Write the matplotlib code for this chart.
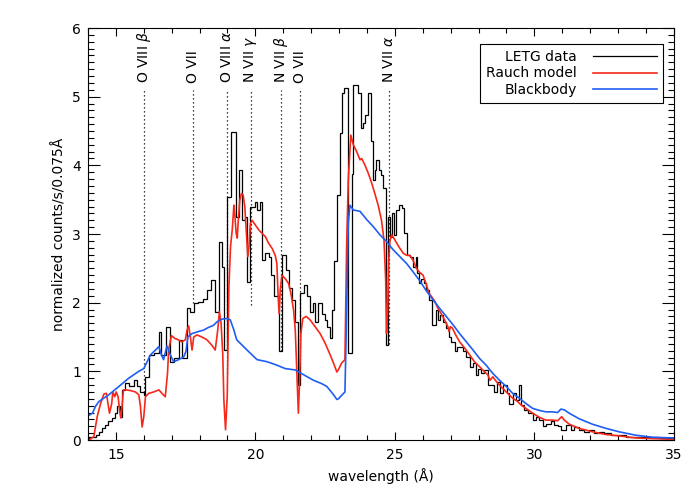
import matplotlib
matplotlib.use("Agg")
from matplotlib import pyplot as plt
from matplotlib.ticker import MultipleLocator

# LETG data: bin left edges (Angstrom) and counts, last edge closes the histogram
letg_edges = [14.04, 14.27, 14.39, 14.51, 14.61, 14.73, 14.85, 14.97, 15.05, 15.13,
              15.23, 15.32, 15.46, 15.64, 15.76, 15.88, 15.99, 16.06, 16.18, 16.36,
              16.54, 16.63, 16.80, 16.95, 17.07, 17.25, 17.37, 17.55, 17.67, 17.79,
              17.96, 18.14, 18.26, 18.42, 18.54, 18.69, 18.81, 18.89, 18.99, 19.13,
              19.29, 19.41, 19.52, 19.61, 19.70, 19.82, 20.00, 20.06, 20.18, 20.24,
              20.36, 20.48, 20.56, 20.66, 20.85, 20.95, 21.11, 21.19, 21.31, 21.43,
              21.51, 21.61, 21.73, 21.85, 21.94, 22.06, 22.14, 22.26, 22.38, 22.50,
              22.58, 22.68, 22.74, 22.80, 22.92, 23.03, 23.09, 23.18, 23.31, 23.45,
              23.51, 23.69, 23.77, 23.84, 23.93, 24.05, 24.13, 24.20, 24.28, 24.34,
              24.44, 24.52, 24.58, 24.68, 24.76, 24.82, 24.88, 24.96, 25.03, 25.15,
              25.24, 25.32, 25.42, 25.53, 25.65, 25.74, 25.81, 25.87, 25.95, 26.03,
              26.13, 26.22, 26.34, 26.46, 26.54, 26.63, 26.72, 26.82, 26.94, 27.02,
              27.14, 27.22, 27.44, 27.56, 27.68, 27.79, 27.89, 27.97, 28.09, 28.21,
              28.33, 28.57, 28.65, 28.75, 28.87, 29.01, 29.10, 29.22, 29.34, 29.46,
              29.52, 29.64, 29.76, 29.94, 30.06, 30.18, 30.30, 30.41, 30.59, 30.71,
              30.83, 30.95, 31.13, 31.31, 31.43, 31.60, 31.78, 31.96, 32.14, 32.32,
              32.50, 32.73, 33.03, 33.27, 33.63, 33.99, 34.46, 35.00]
letg_counts = [0.05, 0.07, 0.12, 0.17, 0.22, 0.27, 0.32, 0.39, 0.49, 0.34,
               0.73, 0.83, 0.78, 0.87, 0.78, 0.70, 0.66, 0.92, 1.24, 1.26,
               1.58, 1.24, 1.65, 1.14, 1.19, 1.46, 1.19, 1.92, 1.87, 1.99,
               2.01, 2.06, 2.18, 2.33, 1.86, 2.89, 2.52, 1.31, 3.54, 4.49,
               3.25, 3.93, 3.20, 3.25, 2.30, 3.40, 3.47, 3.35, 3.47, 2.62,
               2.72, 2.67, 2.40, 2.09, 1.29, 2.69, 2.48, 2.21, 2.04, 1.72,
               0.80, 2.14, 2.26, 2.09, 1.87, 2.00, 1.72, 1.99, 1.84, 1.75,
               1.65, 1.48, 1.89, 2.60, 3.57, 4.47, 5.05, 5.12, 1.27, 3.88,
               5.17, 5.05, 4.54, 4.61, 4.73, 5.05, 4.35, 3.79, 3.93, 4.08,
               3.93, 3.86, 3.67, 1.38, 3.25, 2.96, 3.30, 2.99, 3.35, 3.42,
               3.38, 3.01, 2.69, 2.67, 2.52, 2.67, 2.43, 2.28, 2.35, 2.28,
               2.18, 2.04, 1.67, 1.89, 1.75, 1.82, 1.72, 1.63, 1.50, 1.43,
               1.29, 1.36, 1.29, 1.21, 1.07, 1.12, 0.95, 1.04, 0.97, 1.02,
               0.80, 0.70, 0.85, 0.68, 0.80, 0.68, 0.53, 0.68, 0.58, 0.80,
               0.51, 0.44, 0.39, 0.29, 0.34, 0.29, 0.20, 0.24, 0.27, 0.22,
               0.20, 0.15, 0.22, 0.15, 0.19, 0.15, 0.12, 0.15, 0.10, 0.12,
               0.10, 0.07, 0.07, 0.05, 0.04, 0.05, 0.03]

# Rauch model
rauch_wave = [14.00, 14.04, 14.21, 14.33, 14.45, 14.57, 14.66, 14.73, 14.77, 14.85,
              14.89, 14.96, 15.01, 15.08, 15.13, 15.18, 15.23, 15.27, 15.35, 15.52,
              15.70, 15.82, 15.88, 15.94, 16.00, 16.06, 16.18, 16.36, 16.54, 16.65,
              16.77, 16.85, 16.89, 16.99, 17.11, 17.23, 17.37, 17.49, 17.55, 17.61,
              17.67, 17.73, 17.79, 17.91, 18.08, 18.26, 18.44, 18.56, 18.65, 18.71,
              18.77, 18.83, 18.87, 18.93, 18.99, 19.05, 19.11, 19.17, 19.23, 19.26,
              19.31, 19.35, 19.38, 19.44, 19.50, 19.56, 19.62, 19.68, 19.73, 19.77,
              19.82, 19.88, 20.00, 20.12, 20.24, 20.36, 20.48, 20.60, 20.71, 20.77,
              20.81, 20.85, 20.89, 20.95, 21.07, 21.19, 21.27, 21.37, 21.43, 21.49,
              21.54, 21.58, 21.63, 21.70, 21.82, 21.96, 22.14, 22.32, 22.50, 22.68,
              22.80, 22.92, 22.97, 23.09, 23.21, 23.27, 23.33, 23.42, 23.51, 23.63,
              23.75, 23.81, 23.93, 24.05, 24.17, 24.28, 24.40, 24.52, 24.61, 24.67,
              24.70, 24.74, 24.78, 24.82, 24.88, 24.96, 25.06, 25.18, 25.30, 25.42,
              25.53, 25.65, 25.77, 25.89, 26.01, 26.13, 26.22, 26.31, 26.43, 26.54,
              26.66, 26.78, 26.90, 26.94, 26.99, 27.06, 27.18, 27.32, 27.50, 27.68,
              27.85, 28.03, 28.21, 28.33, 28.41, 28.51, 28.60, 28.75, 28.99, 29.22,
              29.40, 29.52, 29.70, 29.94, 30.18, 30.41, 30.65, 30.83, 30.98, 31.07,
              31.25, 31.60, 32.08, 32.56, 33.03, 33.63, 34.22, 35.00]
rauch_flux = [0.00, 0.00, 0.05, 0.34, 0.53, 0.67, 0.68, 0.49, 0.39, 0.53,
              0.70, 0.63, 0.70, 0.63, 0.44, 0.32, 0.53, 0.73, 0.73, 0.72,
              0.70, 0.66, 0.49, 0.19, 0.34, 0.63, 0.68, 0.70, 0.73, 0.68,
              0.63, 0.97, 1.31, 1.52, 1.48, 1.46, 1.43, 1.46, 1.60, 1.66,
              1.50, 1.31, 1.50, 1.53, 1.50, 1.46, 1.38, 1.31, 1.60, 1.87,
              1.70, 1.26, 0.58, 0.15, 0.63, 2.23, 2.82, 3.06, 3.42, 3.30,
              3.01, 2.94, 3.15, 3.49, 3.59, 3.57, 3.40, 3.01, 2.67, 2.82,
              3.15, 3.20, 3.13, 3.06, 3.01, 2.96, 2.86, 2.79, 2.69, 2.57,
              2.14, 1.84, 2.18, 2.40, 2.35, 2.28, 2.14, 1.89, 1.60, 0.92,
              0.39, 0.82, 1.55, 1.77, 1.80, 1.75, 1.65, 1.55, 1.41, 1.24,
              1.12, 0.99, 1.02, 1.12, 1.17, 2.82, 3.79, 4.44, 4.30, 4.20,
              4.08, 4.10, 4.00, 3.88, 3.74, 3.59, 3.42, 3.20, 2.91, 2.33,
              1.55, 1.85, 2.62, 2.89, 2.99, 2.94, 2.87, 2.79, 2.72, 2.69,
              2.69, 2.62, 2.50, 2.44, 2.40, 2.26, 2.14, 2.09, 2.02, 1.92,
              1.84, 1.75, 1.65, 1.58, 1.65, 1.63, 1.53, 1.43, 1.34, 1.24,
              1.14, 1.07, 0.995, 0.95, 0.87, 0.92, 0.87, 0.80, 0.70, 0.61,
              0.56, 0.51, 0.46, 0.39, 0.33, 0.29, 0.29, 0.28, 0.34, 0.29,
              0.23, 0.17, 0.12, 0.08, 0.06, 0.03, 0.02, 0.01]

# Blackbody
bb_wave = [14.00, 14.04, 14.16, 14.27, 14.39, 14.75, 15.11, 15.46, 15.82, 16.00,
           16.12, 16.24, 16.42, 16.54, 16.63, 16.71, 16.83, 16.95, 17.07, 17.25,
           17.43, 17.51, 17.58, 17.73, 17.96, 18.14, 18.32, 18.50, 18.62, 18.80,
           18.98, 19.10, 19.23, 19.33, 19.70, 20.06, 20.42, 20.77, 21.07, 21.43,
           21.73, 22.08, 22.38, 22.56, 22.80, 22.92, 22.98, 23.09, 23.21, 23.27,
           23.33, 23.39, 23.51, 23.75, 23.99, 24.22, 24.46, 24.70, 24.94, 25.18,
           25.42, 25.65, 25.89, 26.13, 26.37, 26.60, 26.84, 27.08, 27.32, 27.56,
           27.80, 28.03, 28.27, 28.51, 28.75, 28.99, 29.22, 29.46, 29.70, 29.94,
           30.18, 30.41, 30.65, 30.83, 30.95, 31.07, 31.25, 31.60, 32.08, 32.56,
           33.03, 33.63, 34.22, 35.00]
bb_flux = [0.36, 0.36, 0.39, 0.49, 0.56, 0.66, 0.78, 0.90, 1.00, 1.04,
           1.14, 1.24, 1.31, 1.36, 1.24, 1.17, 1.37, 1.24, 1.14, 1.17,
           1.21, 1.29, 1.50, 1.55, 1.58, 1.60, 1.64, 1.67, 1.72, 1.76,
           1.77, 1.75, 1.60, 1.46, 1.31, 1.17, 1.14, 1.09, 1.04, 1.02,
           0.95, 0.87, 0.82, 0.78, 0.66, 0.59, 0.60, 0.65, 0.70, 1.85,
           3.16, 3.42, 3.35, 3.33, 3.21, 3.11, 2.99, 2.89, 2.77, 2.67,
           2.57, 2.45, 2.32, 2.17, 2.04, 1.92, 1.80, 1.68, 1.55, 1.43,
           1.31, 1.19, 1.09, 0.97, 0.87, 0.78, 0.68, 0.61, 0.53, 0.46,
           0.43, 0.41, 0.41, 0.40, 0.45, 0.44, 0.39, 0.31, 0.23, 0.17,
           0.12, 0.07, 0.04, 0.03]

# line identifications
line_names = [r"O VIII $\beta$", "O VII", r"O VIII $\alpha$", r"N VII $\gamma$",
              r"N VII $\beta$", "O VII", r"N VII $\alpha$"]
line_wave = [16.006, 17.768, 18.969, 19.826, 20.910, 21.602, 24.781]
line_bottom = [0.70, 2.00, 0.97, 1.97, 1.30, 0.82, 1.40]

plt.rcParams['mathtext.fontset'] = 'dejavusans'
plt.rcParams['font.size'] = 10

fig = plt.figure(figsize=(7, 5), dpi=100)
ax = fig.add_axes([0.1257, 0.12, 0.837, 0.824])

for w, lo in zip(line_wave, line_bottom):
    ax.plot([w, w], [lo, 5.1], color='black', linestyle=(0, (1, 2.2)), linewidth=0.9)
for name, w in zip(line_names, line_wave):
    ax.text(w, 5.2, name, rotation=90, ha='center', va='bottom', fontsize=10)

ax.stairs(letg_counts, letg_edges, color='black', linewidth=0.9, label='LETG data')
ax.plot(rauch_wave, rauch_flux, color='#f5281a', linewidth=1.2, label='Rauch model')
ax.plot(bb_wave, bb_flux, color='#1f5ef2', linewidth=1.2, label='Blackbody')

ax.set_xlim(14, 35)
ax.set_ylim(0, 6)
ax.xaxis.set_major_locator(MultipleLocator(5))
ax.xaxis.set_minor_locator(MultipleLocator(1))
ax.yaxis.set_major_locator(MultipleLocator(1))
ax.yaxis.set_minor_locator(MultipleLocator(0.1))
ax.tick_params(which='both', direction='in', top=True, right=True, width=0.8)
ax.tick_params(axis='x', which='major', length=6, pad=6)
ax.tick_params(axis='x', which='minor', length=3.5)
ax.tick_params(axis='y', which='major', length=8.5, pad=5)
ax.tick_params(axis='y', which='minor', length=4)
ax.set_xlabel("wavelength (Å)")
ax.set_ylabel("normalized counts/s/0.075Å")

leg = ax.legend(loc='upper right', markerfirst=False, fancybox=False, edgecolor='black',
                framealpha=1, handlelength=4.6, handletextpad=1.2, borderpad=0.4,
                labelspacing=0.2, borderaxespad=0, bbox_to_anchor=(0.981, 0.961))
leg.get_frame().set_linewidth(0.8)
for t in leg.get_texts():
    t.set_ha('right')

fig.savefig("out.png", dpi=100)
